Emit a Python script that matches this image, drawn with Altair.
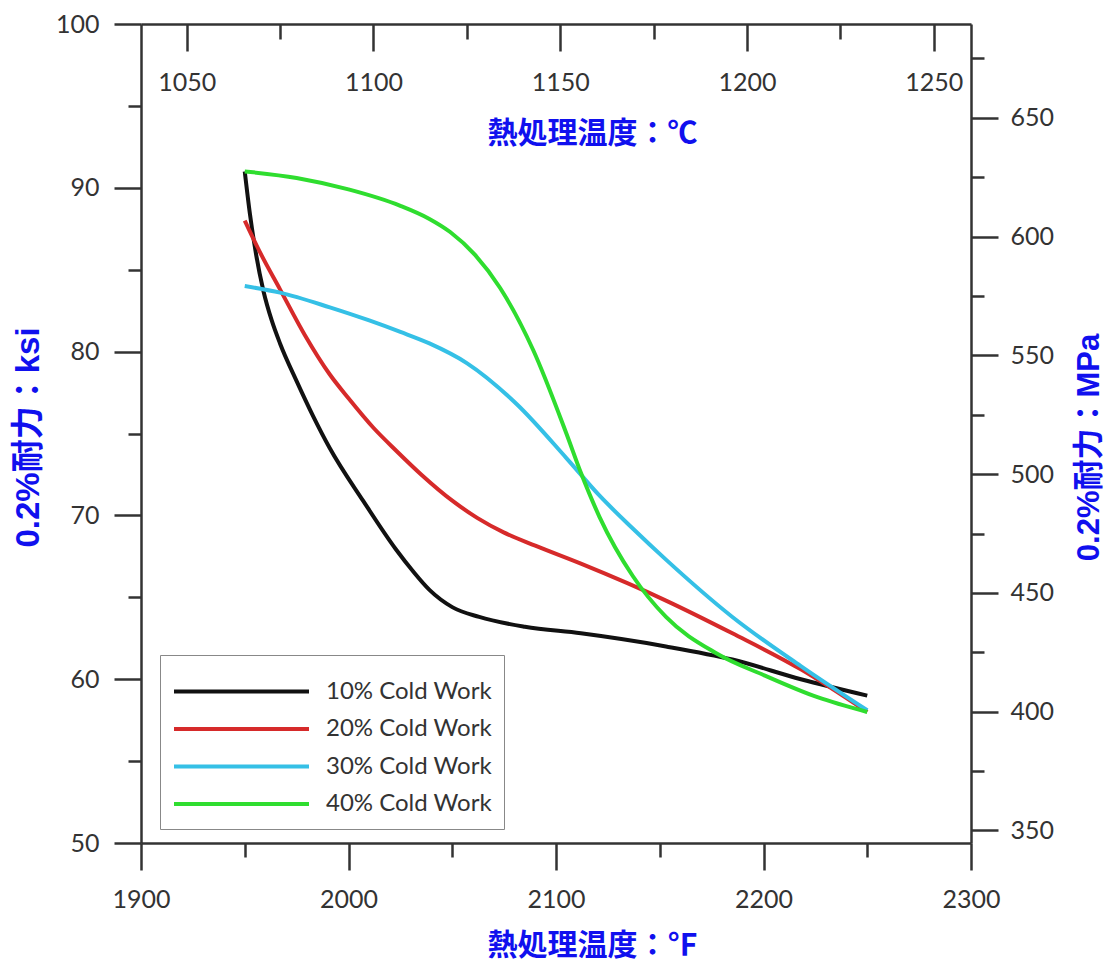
import altair as alt
import pandas as pd

SERIES = ["10% Cold Work", "20% Cold Work", "30% Cold Work", "40% Cold Work"]
COLORS = ["#111111", "#d62a2a", "#35c0e6", "#2fdd2f"]

CW10_F = [1950, 1952.5, 1955.5, 1959, 1963, 1967, 1975, 1983, 1991, 2007, 2023, 2031, 2039, 2050, 2063, 2085, 2112, 2153, 2185, 2218, 2250]
CW10_KSI = [91.0, 88.4, 85.9, 83.7, 81.9, 80.5, 78.2, 76.05, 74.1, 70.9, 67.9, 66.6, 65.45, 64.4, 63.8, 63.2, 62.8, 62.0, 61.2, 60.0, 59.0]

CW20_F = [1950, 1958, 1967, 1979, 1991, 2000, 2012, 2023, 2035, 2050, 2062, 2075, 2090, 2112, 2153, 2185, 2218, 2250]
CW20_KSI = [88.0, 85.9, 83.8, 81.0, 78.6, 77.15, 75.35, 73.95, 72.5, 70.9, 69.85, 68.95, 68.15, 67.05, 64.8, 62.8, 60.6, 58.0]

CW30_F = [1950, 1967, 1991, 2010, 2025, 2039, 2057, 2081, 2105, 2121, 2137, 2153, 2185, 2218, 2250]
CW30_KSI = [84.0, 83.6, 82.7, 81.9, 81.2, 80.5, 79.3, 76.8, 73.5, 71.2, 69.2, 67.3, 63.8, 60.8, 58.1]

CW40_F = [1950, 1975, 2000, 2025, 2039, 2049, 2061, 2073, 2089, 2105, 2112, 2121, 2137, 2153, 2177, 2201, 2226, 2250]
CW40_KSI = [91.0, 90.6, 89.9, 88.9, 88.1, 87.3, 85.9, 83.9, 80.1, 75.0, 72.6, 69.9, 66.3, 63.8, 61.6, 60.2, 58.9, 58.0]

F_DOMAIN = [1900, 2300]
KSI_DOMAIN = [50, 100]
F_TICKS = list(range(1900, 2301, 50))
KSI_TICKS = list(range(50, 101, 5))
C_TICKS = list(range(1050, 1251, 25))
MPA_TICKS = list(range(350, 676, 25))
KSI_TO_MPA = 6.894757
C_DOMAIN = [(f - 32) * 5 / 9 for f in F_DOMAIN]
MPA_DOMAIN = [k * KSI_TO_MPA for k in KSI_DOMAIN]

rows = []
for name, fs, ks in zip(SERIES, [CW10_F, CW20_F, CW30_F, CW40_F], [CW10_KSI, CW20_KSI, CW30_KSI, CW40_KSI]):
    for f, k in zip(fs, ks):
        rows.append({"series": name, "F": f, "ksi": k})
df = pd.DataFrame(rows)

TITLE_BLUE = "#1010ee"
AX = dict(domainColor="#333333", domainWidth=2.5, tickColor="#333333", tickWidth=2.5,
          labelFont="Lato", labelFontSize=25, labelColor="#333333", grid=False,
          labelFlush=False, labelOverlap=False, format="d",
          titleFontWeight="bold", titleColor=TITLE_BLUE,
          titleAlign="center", titleBaseline="middle")

lines = alt.Chart(df).mark_line(strokeWidth=4, interpolate="monotone").encode(
    x=alt.X("F:Q", scale=alt.Scale(domain=F_DOMAIN, nice=False, zero=False),
            axis=alt.Axis(orient="bottom", values=F_TICKS,
                          tickSize={"expr": "datum.value % 100 === 0 ? 27 : 14"},
                          labelExpr="datum.value % 100 === 0 ? datum.label : ''",
                          labelPadding=17,
                          title="熱処理温度：℉", titleFont="Noto Sans CJK JP", titleFontSize=30,
                          titleX=451, titleY=102, titleAngle=0, **AX)),
    y=alt.Y("ksi:Q", scale=alt.Scale(domain=KSI_DOMAIN, nice=False, zero=False),
            axis=alt.Axis(orient="left", values=KSI_TICKS,
                          tickSize={"expr": "datum.value % 10 === 0 ? 27 : 13"},
                          labelExpr="datum.value % 10 === 0 ? datum.label : ''",
                          labelPadding=15,
                          title="0.2%耐力：ksi", titleFont="Liberation Sans, Noto Sans CJK JP",
                          titleFontSize=33, titleAngle=270, titleX=-113, titleY=413, **AX)),
    color=alt.Color("series:N", scale=alt.Scale(domain=SERIES, range=COLORS),
                    legend=alt.Legend(orient="none", legendX=19, legendY=631,
                                      title=" ", titleFontSize=10, titlePadding=2,
                                      symbolType="stroke", symbolSize=18225, symbolStrokeWidth=4,
                                      clipHeight=25, rowPadding=12.5,
                                      labelFont="Lato", labelFontSize=24, labelColor="#333333",
                                      labelLimit=400, labelOffset=15, padding=12,
                                      strokeColor="#888888", fillColor="white")),
)

aux = alt.Chart(df).transform_calculate(
    C="(datum.F - 32) * 5 / 9",
    MPa=f"datum.ksi * {KSI_TO_MPA}",
).mark_point(opacity=0).encode(
    x=alt.X("C:Q", scale=alt.Scale(domain=C_DOMAIN, nice=False, zero=False),
            axis=alt.Axis(orient="top", values=C_TICKS,
                          tickSize={"expr": "datum.value % 50 === 0 ? -27 : -15"},
                          labelExpr="datum.value % 50 === 0 ? datum.label : ''",
                          labelPadding={"expr": "-31"}, labelBaseline="middle",
                          title="熱処理温度：℃", titleFont="Noto Sans CJK JP", titleFontSize=30,
                          titleX=451, titleY=109, titleAngle=0, **AX)),
    y=alt.Y("MPa:Q", scale=alt.Scale(domain=MPA_DOMAIN, nice=False, zero=False),
            axis=alt.Axis(orient="right", values=MPA_TICKS,
                          tickSize={"expr": "datum.value % 50 === 0 ? 27 : 13"},
                          labelExpr="datum.value % 50 === 0 ? datum.label : ''",
                          labelPadding=12,
                          title="0.2%耐力：MPa", titleFont="Liberation Sans, Noto Sans CJK JP",
                          titleFontSize=31, titleAngle=270, titleX=118, titleY=423, **AX)),
)

chart = alt.layer(lines, aux).resolve_scale(x="independent", y="independent").properties(
    width=830, height=819,
    autosize=alt.AutoSizeParams(type="none"),
    padding={"left": 133, "top": 16, "right": 135, "bottom": 121},
).configure_view(strokeWidth=0).configure(background="white")

chart.save("out.html", embed_options={"renderer": "svg", "actions": False})
